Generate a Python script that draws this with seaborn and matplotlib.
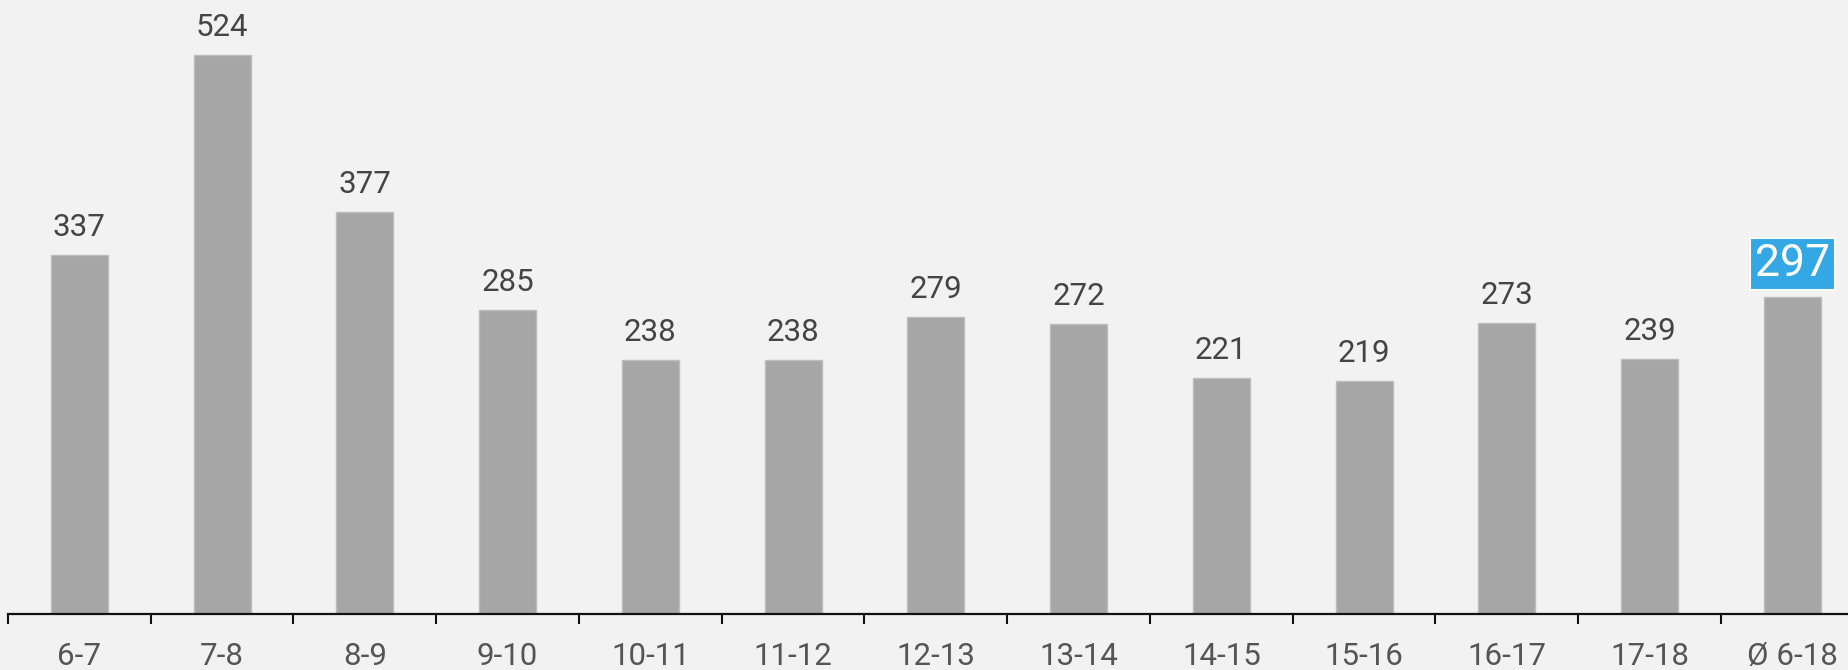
import matplotlib
matplotlib.use('Agg')
import matplotlib.pyplot as plt
import seaborn as sns
import pandas as pd
import numpy as np

# Stunden und Werte
stunden = ['6-7', '7-8', '8-9', '9-10', '10-11', '11-12', '12-13', '13-14',
           '14-15', '15-16', '16-17', '17-18', 'Ø 6-18']
werte = [337, 524, 377, 285, 238, 238, 279, 272, 221, 219, 273, 239, 297]
highlight = 'Ø 6-18'

sns.set_theme(style='white')
plt.rcParams['font.family'] = ['Roboto', 'DejaVu Sans']

df = pd.DataFrame({'stunde': stunden, 'wert': werte})

fig = plt.figure(figsize=(18.49, 6.70), dpi=100, facecolor='#f2f2f2')
ax = fig.add_axes([8 / 1849, 56 / 670, 1855.75 / 1849, 614 / 670])
ax.set_facecolor('#f2f2f2')

sns.barplot(data=df, x='stunde', y='wert', color='#a6a6a6', width=0.4,
            saturation=1, edgecolor='#bdbdbd', linewidth=1, ax=ax)

ax.set_xlim(-0.5, len(stunden) - 0.5)
ax.set_ylim(0, 576)

for i, (s, v) in enumerate(zip(stunden, werte)):
    if s == highlight:
        ax.annotate(str(v), (i, v), xytext=(0, 24), textcoords='offset points',
                    ha='center', va='center', fontsize=32, color='white',
                    bbox=dict(boxstyle='square,pad=0.12', fc='#33a8e5', ec='white', lw=1.5))
    else:
        ax.annotate(str(v), (i, v), xytext=(0, 13.7), textcoords='offset points',
                    ha='center', va='baseline', fontsize=22.5, color='#444444')

for side in ['top', 'left', 'right']:
    ax.spines[side].set_visible(False)
ax.spines['bottom'].set_linewidth(1.6)
ax.spines['bottom'].set_color('#111111')

ax.set_yticks([])
ax.set_xlabel('')
ax.set_ylabel('')
ax.set_xticks(range(len(stunden)))
ax.set_xticklabels(stunden, fontsize=22.5, color='#555555')
ax.tick_params(axis='x', which='major', length=0, pad=20)
ax.set_xticks(np.arange(-0.5, len(stunden)), minor=True)
ax.tick_params(axis='x', which='minor', length=7, width=1.5, color='#111111', bottom=True)

fig.savefig('out.png', dpi=100, facecolor='#f2f2f2')
